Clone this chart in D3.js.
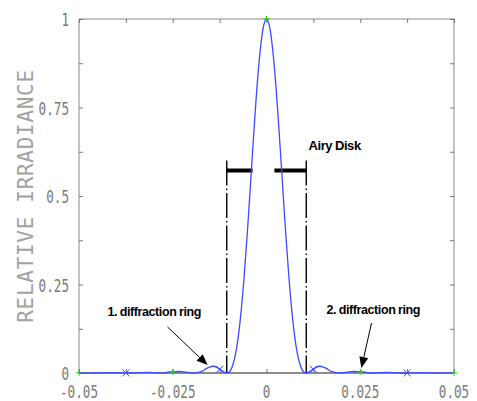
<!DOCTYPE html>
<html>
<head>
<meta charset="utf-8">
<script src="https://cdn.jsdelivr.net/npm/d3@7"></script>
<style>
  body { margin: 0; background: #fff; }
  svg { display: block; }
</style>
</head>
<body>
<svg id="chart" width="477" height="401"></svg>
<script>
// ---------- data ----------
const offsets = [
  -0.05, -0.0497, -0.0475, -0.0456, -0.043, -0.0409, -0.039, -0.0369, -0.034, -0.0321, -0.03, -0.0281,
  -0.027, -0.026, -0.0233, -0.021, -0.0194, -0.019, -0.018, -0.017, -0.016, -0.015, -0.0142, -0.013,
  -0.012, -0.0106, -0.01, -0.009, -0.008, -0.007, -0.006, -0.005, -0.004, -0.003, -0.002, -0.001,
  0,
  0.001, 0.002, 0.003, 0.004, 0.005, 0.006, 0.007, 0.008, 0.009, 0.01, 0.0106,
  0.012, 0.013, 0.0142, 0.015, 0.016, 0.017, 0.018, 0.019, 0.0194, 0.021, 0.0233, 0.026,
  0.027, 0.0281, 0.03, 0.0321, 0.034, 0.0369, 0.039, 0.0409, 0.043, 0.0456, 0.0475, 0.0497, 0.05
];
const irradiance = [
  0.0004, 0.0004, 0.0003, 0, 0.0006, 0.0008, 0.0006, 0, 0.0011, 0.0016, 0.0011, 0,
  0.001, 0.003, 0.0042, 0.002, 0, 0.0002, 0.0023, 0.0057, 0.0129, 0.0175, 0.019, 0.0144,
  0.0077, 0, 0.0024, 0.022, 0.068, 0.15, 0.267, 0.414, 0.578, 0.74, 0.876, 0.968,
  1,
  0.968, 0.876, 0.74, 0.578, 0.414, 0.267, 0.15, 0.068, 0.022, 0.0024, 0,
  0.0077, 0.0144, 0.019, 0.0175, 0.0129, 0.0057, 0.0023, 0.0002, 0, 0.002, 0.0042, 0.003,
  0.001, 0, 0.0011, 0.0016, 0.0011, 0, 0.0006, 0.0008, 0.0006, 0, 0.0003, 0.0004, 0.0004
];

// sample markers
const plusX = [-0.05, -0.025, 0, 0.025, 0.05];
const plusY = [0.0004, 0.0033, 1, 0.0033, 0.0004];
const crossX = [-0.0375, -0.0125, 0.0125, 0.0375];
const crossY = [0.0003, 0.0105, 0.0105, 0.0003];

// ticks
const xTicks = [-0.05, -0.025, 0, 0.025, 0.05];
const xTickLabels = ["-0.05", "-0.025", "0", "0.025", "0.05"];
const xMinor = [-0.0375, -0.0125, 0.0125, 0.0375];
const yTicks = [0, 0.25, 0.5, 0.75, 1];
const yTickLabels = ["0", "0.25", "0.5", "0.75", "1"];
const yMinor = [0.125, 0.375, 0.625, 0.875];

// Airy disk marker (first zeros) and bar level
const diskEdges = [-0.0106, 0.0106];
const diskTop = 0.6;
const barLevel = 0.572;
const barSegments = [[-0.0106, -0.0037], [0.0021, 0.0106]];

// ---------- layout ----------
const svg = d3.select("#chart");
const margin = { left: 79, right: 23, top: 19, bottom: 28 };
const W = 477, H = 401;

const x = d3.scaleLinear().domain([-0.05, 0.05]).range([margin.left, W - margin.right]);
const y = d3.scaleLinear().domain([0, 1]).range([H - margin.bottom, margin.top]);

const tickColor = "#7a7a7a";

// box
svg.append("rect")
  .attr("x", x(-0.05)).attr("y", y(1))
  .attr("width", x(0.05) - x(-0.05)).attr("height", y(0) - y(1))
  .attr("fill", "none").attr("stroke", "#8a8a8a").attr("stroke-width", 1);

// inward ticks on all four sides
const allX = xTicks.concat(xMinor);
const allY = yTicks.concat(yMinor);
function axisStyle(g) {
  g.select(".domain").remove();
  g.selectAll("line").attr("stroke", "#777");
}
svg.append("g").attr("transform", `translate(0,${y(0)})`)
  .call(d3.axisBottom(x).tickValues(allX).tickSize(-4).tickFormat(""))
  .call(axisStyle);
svg.append("g").attr("transform", `translate(0,${y(1)})`)
  .call(d3.axisTop(x).tickValues(allX).tickSize(-4).tickFormat(""))
  .call(axisStyle);
svg.append("g").attr("transform", `translate(${x(-0.05)},0)`)
  .call(d3.axisLeft(y).tickValues(allY).tickSize(-4).tickFormat(""))
  .call(axisStyle);
svg.append("g").attr("transform", `translate(${x(0.05)},0)`)
  .call(d3.axisRight(y).tickValues(allY).tickSize(-4).tickFormat(""))
  .call(axisStyle);

// bottom axis line a bit darker
svg.append("line")
  .attr("x1", x(-0.05)).attr("x2", x(0.05))
  .attr("y1", y(0)).attr("y2", y(0))
  .attr("stroke", "#555").attr("stroke-width", 1.2);

// tick labels (thin, condensed look), squeezed with textLength
const charW = 7.6;
svg.append("g").selectAll("text")
  .data(xTicks)
  .join("text")
  .attr("x", (d) => x(d))
  .attr("y", y(0) + 19)
  .attr("text-anchor", "middle")
  .attr("dy", "0.36em")
  .attr("font-family", "DejaVu Sans Mono")
  .attr("font-size", 18)
  .attr("fill", tickColor)
  .attr("textLength", (d, i) => xTickLabels[i].length * charW)
  .attr("lengthAdjust", "spacingAndGlyphs")
  .text((d, i) => xTickLabels[i]);

svg.append("g").selectAll("text")
  .data(yTicks)
  .join("text")
  .attr("x", x(-0.05) - 10)
  .attr("y", (d) => y(d) + 1)
  .attr("text-anchor", "end")
  .attr("dy", "0.36em")
  .attr("font-family", "DejaVu Sans Mono")
  .attr("font-size", 18)
  .attr("fill", tickColor)
  .attr("textLength", (d, i) => yTickLabels[i].length * charW)
  .attr("lengthAdjust", "spacingAndGlyphs")
  .text((d, i) => yTickLabels[i]);

// y axis title
svg.append("text")
  .attr("transform", `translate(25,${(y(0) + y(1)) / 2}) rotate(-90)`)
  .attr("text-anchor", "middle")
  .attr("dy", "0.36em")
  .attr("font-family", "DejaVu Sans Mono")
  .attr("font-size", 21)
  .attr("letter-spacing", 0.7)
  .attr("fill", "#a2a2a2")
  .text("RELATIVE IRRADIANCE");

// ---------- Airy disk markers ----------
svg.append("g").selectAll("line")
  .data(diskEdges)
  .join("line")
  .attr("x1", (d) => x(d)).attr("x2", (d) => x(d))
  .attr("y1", y(diskTop)).attr("y2", y(0))
  .attr("stroke", "#000").attr("stroke-width", 1.4)
  .attr("stroke-dasharray", "25,3,1.5,3");

svg.append("g").selectAll("line")
  .data(barSegments)
  .join("line")
  .attr("x1", (d) => x(d[0])).attr("x2", (d) => x(d[1]))
  .attr("y1", y(barLevel)).attr("y2", y(barLevel))
  .attr("stroke", "#000").attr("stroke-width", 4);

// ---------- curve ----------
const pts = offsets.map((o, i) => [o, irradiance[i]]);
const line = d3.line()
  .x((d) => x(d[0]))
  .y((d) => y(d[1]))
  .curve(d3.curveMonotoneX);

svg.append("path")
  .datum(pts)
  .attr("d", line)
  .attr("fill", "none")
  .attr("stroke", "#3b4bff")
  .attr("stroke-width", 1.3);

// markers
svg.append("g").selectAll("path")
  .data(plusX.map((v, i) => [v, plusY[i]]))
  .join("path")
  .attr("d", (d) => {
    const cx = x(d[0]), cy = y(d[1]);
    return `M${cx - 3},${cy}H${cx + 3}M${cx},${cy - 3}V${cy + 3}`;
  })
  .attr("stroke", "#22cc22").attr("stroke-width", 1);

svg.append("g").selectAll("path")
  .data(crossX.map((v, i) => [v, crossY[i]]))
  .join("path")
  .attr("d", (d) => {
    const cx = x(d[0]), cy = y(d[1]);
    return `M${cx - 3.5},${cy - 3.5}L${cx + 3.5},${cy + 3.5}M${cx - 3.5},${cy + 3.5}L${cx + 3.5},${cy - 3.5}`;
  })
  .attr("stroke", "#3b4bff").attr("stroke-width", 1);

// ---------- annotations ----------
const labelFont = "Liberation Sans, Arial, sans-serif";
function note(tx, ty, text, size) {
  svg.append("text")
    .attr("x", x(tx)).attr("y", y(ty))
    .attr("font-family", labelFont)
    .attr("font-weight", "bold")
    .attr("font-size", size)
    .attr("letter-spacing", -0.4)
    .attr("word-spacing", -0.5)
    .attr("fill", "#000")
    .text(text);
}
note(0.0112, 0.63, "Airy Disk", 13);
note(-0.0424, 0.161, "1. diffraction ring", 12.5);
note(0.016, 0.167, "2. diffraction ring", 12.5);

function arrow(x0, y0, x1, y1) {
  const ax = x(x0), ay = y(y0), bx = x(x1), by = y(y1);
  const ang = Math.atan2(by - ay, bx - ax);
  const len = 11, half = 4.5;
  const baseX = bx - len * Math.cos(ang), baseY = by - len * Math.sin(ang);
  svg.append("line")
    .attr("x1", ax).attr("y1", ay).attr("x2", baseX).attr("y2", baseY)
    .attr("stroke", "#000").attr("stroke-width", 1);
  svg.append("path")
    .attr("d", `M${bx},${by}L${baseX - half * Math.sin(ang)},${baseY + half * Math.cos(ang)}L${baseX + half * Math.sin(ang)},${baseY - half * Math.cos(ang)}Z`)
    .attr("fill", "#000");
}
arrow(-0.0264, 0.13, -0.0157, 0.0226);
arrow(0.028, 0.141, 0.0253, 0.014);
</script>
</body>
</html>
